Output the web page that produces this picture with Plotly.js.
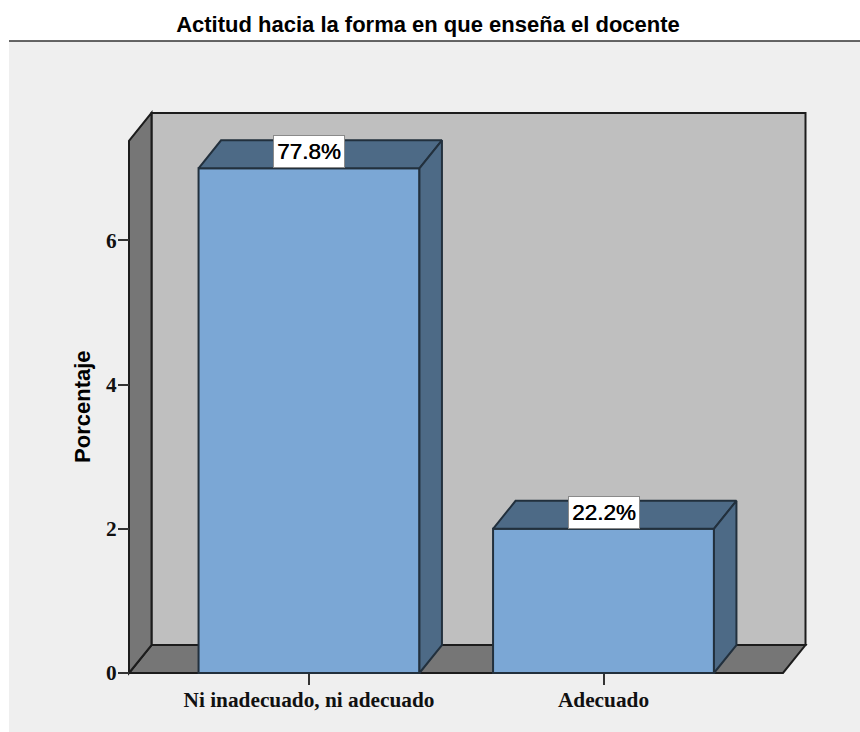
<!DOCTYPE html>
<html>
<head>
<meta charset="utf-8">
<script src="https://cdn.plot.ly/plotly-3.0.1.min.js"></script>
<style>html,body{margin:0;padding:0;background:#fff}#chart{width:860px;height:732px}</style>
</head>
<body>
<div id="chart"></div>
<script>
// Survey result: attitude toward the way the teacher teaches
const categories = ['Ni inadecuado, ni adecuado', 'Adecuado'];
const counts = [7, 2];
const yTicks = [0, 2, 4, 6];
const chartTitle = 'Actitud hacia la forma en que enseña el docente';
const yTitle = 'Porcentaje';

const total = counts.reduce((a, b) => a + b, 0);
const percentLabels = counts.map(v => (v / total * 100).toFixed(1) + '%');
const positions = categories.map((_, i) => i);

// Pseudo-3D box geometry, in axis units
const barWidth = 0.75;
const depthX = 0.0764;
const depthY = 0.388;
const frameLeft = -0.6112;
const frameRight = 1.6095;
const frameTop = 7.38;

const COL = {
  panel: '#efefef', wall: '#bfbfbf', side: '#767676',
  front: '#7ba7d5', shade: '#4d6a86', edge: '#1c1c1c', barEdge: '#22303d'
};

function polyPath(pts) {
  return 'M' + pts.map(p => p[0] + ',' + p[1]).join('L') + 'Z';
}
function wallShape(pts, fill) {
  return {
    type: 'path', xref: 'x', yref: 'y', layer: 'below',
    path: polyPath(pts), fillcolor: fill, line: {color: COL.edge, width: 2}
  };
}
function faceTrace(pts) {
  const closed = pts.concat([pts[0]]);
  return {
    type: 'scatter', mode: 'lines', fill: 'toself', fillcolor: COL.shade,
    x: closed.map(p => p[0]), y: closed.map(p => p[1]),
    line: {color: COL.barEdge, width: 2}, hoverinfo: 'skip', showlegend: false
  };
}

// Room: back wall, floor and left wall
const shapes = [
  {type: 'rect', xref: 'paper', yref: 'paper', layer: 'below',
   x0: (9 - 124) / 687, x1: (860 - 124) / 687, y0: (678 - 732) / 570, y1: (678 - 41) / 570,
   fillcolor: COL.panel, line: {width: 0}},
  {type: 'line', xref: 'paper', yref: 'paper', layer: 'below',
   x0: (9 - 124) / 687, x1: (860 - 124) / 687, y0: (678 - 41) / 570, y1: (678 - 41) / 570,
   line: {color: '#333333', width: 1.5}},
  wallShape([[frameLeft + depthX, depthY], [frameRight + depthX, depthY],
             [frameRight + depthX, frameTop + depthY], [frameLeft + depthX, frameTop + depthY]], COL.wall),
  wallShape([[frameLeft, 0], [frameRight, 0], [frameRight + depthX, depthY], [frameLeft + depthX, depthY]], COL.side),
  wallShape([[frameLeft, 0], [frameLeft + depthX, depthY],
             [frameLeft + depthX, frameTop + depthY], [frameLeft, frameTop]], COL.side)
];

// Front faces come from the bar trace; tops and right sides are derived from the same values
const traces = [{
  type: 'bar', x: positions, y: counts, width: barWidth,
  marker: {color: COL.front, line: {color: COL.barEdge, width: 2}},
  hoverinfo: 'x+y', showlegend: false
}];
positions.forEach((pos, i) => {
  const l = pos - barWidth / 2, r = pos + barWidth / 2, v = counts[i];
  traces.push(faceTrace([[l, v], [r, v], [r + depthX, v + depthY], [l + depthX, v + depthY]]));
  traces.push(faceTrace([[r, 0], [r + depthX, depthY], [r + depthX, v + depthY], [r, v]]));
});

const annotations = positions.map((pos, i) => ({
  x: pos, y: counts[i], xref: 'x', yref: 'y', text: percentLabels[i],
  showarrow: false, xanchor: 'center', yanchor: 'bottom',
  font: {family: 'Liberation Sans, Arial, sans-serif', size: 22.5, color: '#000', shadow: '0.4px 0 0 #000'},
  bgcolor: '#ffffff', bordercolor: '#8a8a8a', borderwidth: 1, borderpad: 3
}));

// Axis title is centred on the front plane of the frame
annotations.push({
  x: (83 - 124) / 687, xref: 'paper', y: frameTop / 2, yref: 'y', text: yTitle,
  textangle: -90, showarrow: false, xanchor: 'center', yanchor: 'middle',
  font: {family: 'Liberation Sans, Arial, sans-serif', size: 22, color: '#000', weight: 700}
});

const tickFont = {family: 'Liberation Serif, Times New Roman, serif', size: 21.3, color: '#111', weight: 700};

const layout = {
  width: 860, height: 732,
  margin: {l: 124, r: 49, t: 108, b: 54, pad: 0},
  paper_bgcolor: '#ffffff', plot_bgcolor: 'rgba(0,0,0,0)',
  title: {
    text: chartTitle, x: 428 / 860, xanchor: 'center', y: 1 - 24 / 732, yanchor: 'middle',
    font: {family: 'Liberation Sans, Arial, sans-serif', size: 22, color: '#000', weight: 700}
  },
  xaxis: {
    range: [(124 - 309) / 294.5, (811 - 309) / 294.5],
    tickmode: 'array', tickvals: positions, ticktext: categories,
    ticks: 'outside', ticklen: 11, tickwidth: 1.5, tickcolor: '#333',
    showgrid: false, zeroline: false, showline: false,
    anchor: 'free', position: 5 / 570, tickfont: tickFont, ticklabelstandoff: -4, fixedrange: true
  },
  yaxis: {
    range: [-5 / 72.1, 565 / 72.1],
    tickmode: 'array', tickvals: yTicks,
    ticks: 'outside', ticklen: 11, tickwidth: 1.5, tickcolor: '#333',
    showgrid: false, zeroline: false, showline: false,
    anchor: 'free', position: 5 / 687, tickfont: tickFont, ticklabelstandoff: -3, fixedrange: true
  },
  shapes: shapes,
  annotations: annotations,
  showlegend: false
};

Plotly.newPlot('chart', traces, layout, {displayModeBar: false});
</script>
</body>
</html>
